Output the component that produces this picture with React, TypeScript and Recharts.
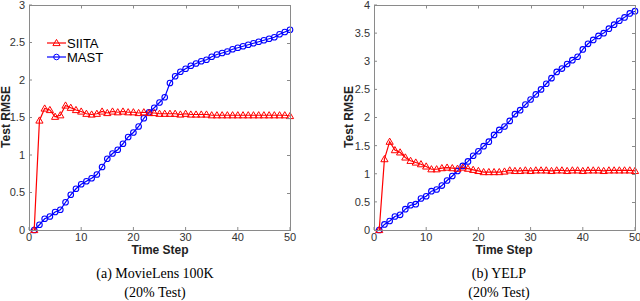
import React from "react"
import { LineChart, Line, XAxis, YAxis } from "recharts"

const steps = [
  1, 2, 3, 4, 5, 6, 7, 8, 9, 10, 11, 12, 13, 14, 15, 16, 17, 18, 19, 20, 21, 22, 23, 24, 25,
  26, 27, 28, 29, 30, 31, 32, 33, 34, 35, 36, 37, 38, 39, 40, 41, 42, 43, 44, 45, 46, 47, 48, 49, 50,
]

const movieSiita = [
  0, 1.46, 1.62, 1.6, 1.51, 1.53, 1.66, 1.63, 1.6, 1.58, 1.55, 1.54, 1.55, 1.58, 1.56, 1.58, 1.57,
  1.58, 1.57, 1.57, 1.56, 1.57, 1.56, 1.56, 1.55, 1.55, 1.55, 1.55, 1.54, 1.55, 1.54, 1.54, 1.54,
  1.54, 1.53, 1.53, 1.53, 1.53, 1.53, 1.53, 1.53, 1.53, 1.53, 1.53, 1.53, 1.53, 1.53, 1.53, 1.53, 1.52,
]

const movieMast = [
  0, 0.07, 0.15, 0.18, 0.24, 0.27, 0.37, 0.47, 0.55, 0.61, 0.65, 0.69, 0.74, 0.84, 0.95, 1.02, 1.07,
  1.15, 1.24, 1.3, 1.38, 1.49, 1.57, 1.63, 1.7, 1.77, 1.96, 2.05, 2.11, 2.15, 2.19, 2.22, 2.25, 2.27,
  2.31, 2.34, 2.36, 2.38, 2.41, 2.43, 2.45, 2.47, 2.49, 2.51, 2.53, 2.55, 2.57, 2.61, 2.64, 2.67,
]

const yelpSiita = [
  0, 1.26, 1.57, 1.42, 1.38, 1.29, 1.23, 1.2, 1.17, 1.13, 1.08, 1.08, 1.1, 1.11, 1.1, 1.09, 1.11,
  1.09, 1.07, 1.05, 1.03, 1.03, 1.03, 1.03, 1.04, 1.06, 1.05, 1.05, 1.06, 1.05, 1.06, 1.06, 1.06,
  1.05, 1.06, 1.06, 1.05, 1.06, 1.06, 1.05, 1.06, 1.06, 1.06, 1.05, 1.06, 1.06, 1.06, 1.06, 1.06, 1.05,
]

const yelpMast = [
  0, 0.1, 0.16, 0.24, 0.27, 0.37, 0.44, 0.46, 0.56, 0.6, 0.69, 0.72, 0.79, 0.88, 0.96, 1.05, 1.14,
  1.22, 1.32, 1.4, 1.49, 1.57, 1.69, 1.78, 1.84, 1.94, 2.06, 2.13, 2.23, 2.32, 2.41, 2.5, 2.6, 2.7,
  2.81, 2.87, 2.95, 3.02, 3.08, 3.21, 3.31, 3.38, 3.45, 3.5, 3.58, 3.65, 3.72, 3.78, 3.85, 3.89,
]

const xTicks = [0, 10, 20, 30, 40, 50]
const movieYTicks = [0, 0.5, 1, 1.5, 2, 2.5, 3]
const yelpYTicks = [0, 0.5, 1, 1.5, 2, 2.5, 3, 3.5, 4]

const RED = "#ff0000"
const BLUE = "#0000ff"
const AXIS = "#8a8a8a"
const TEXT = "#333"
const SANS = "'Liberation Sans', Arial, sans-serif"
const SERIF = "'Liberation Serif', 'Times New Roman', serif"

// plot box inside each 300x250 chart
const PL = 29
const PR = 290
const PT = 5
const PB = 230

const triangle = (p: any) => {
  const { cx, cy } = p
  if (cx == null || cy == null) return <g key={p.index} />
  return (
    <path
      key={p.index}
      d={`M${cx},${cy - 3.6}L${cx - 3.6},${cy + 2.6}L${cx + 3.6},${cy + 2.6}Z`}
      fill="none"
      stroke={RED}
      strokeWidth={1}
    />
  )
}

const circle = (p: any) => {
  const { cx, cy } = p
  if (cx == null || cy == null) return <g key={p.index} />
  return <circle key={p.index} cx={cx} cy={cy} r={2.8} fill="none" stroke={BLUE} strokeWidth={1.1} />
}

// MATLAB-style box with inward ticks on top and right
function Frame({ yTicks, yMax }: any) {
  return (
    <svg width={300} height={250} style={{ position: "absolute", left: 0, top: 0, pointerEvents: "none" }}>
      <rect x={PL + 0.5} y={PT + 0.5} width={PR - PL} height={PB - PT} fill="none" stroke={AXIS} strokeWidth={1} />
      {xTicks.map((t) => {
        const x = Math.round(PL + (t / 50) * (PR - PL)) + 0.5
        return <line key={"tx" + t} x1={x} x2={x} y1={PT} y2={PT + 3.5} stroke={AXIS} />
      })}
      {yTicks.map((t: number) => {
        const y = Math.round(PB - (t / yMax) * (PB - PT)) + 0.5
        return <line key={"ty" + t} x1={PR - 3} x2={PR + 0.5} y1={y} y2={y} stroke={AXIS} />
      })}
    </svg>
  )
}

function Panel({ siita, mast, yTicks, yMax, showLegend }: any) {
  const data = steps.map((s, i) => ({ step: s, siita: siita[i], mast: mast[i] }))
  const tickStyle = { fontSize: 11, fill: TEXT, fontFamily: SANS }
  return (
    <div style={{ position: "relative", width: 300, height: 250 }}>
      <LineChart width={300} height={250} data={data} margin={{ top: PT, right: 300 - PR, bottom: 0, left: 0 }}>
        <XAxis
          type="number"
          dataKey="step"
          domain={[0, 50]}
          ticks={xTicks}
          stroke={AXIS}
          axisLine={false}
          tickSize={-3}
          tickMargin={6}
          tick={tickStyle}
          height={250 - PB}
        />
        <YAxis
          type="number"
          domain={[0, yMax]}
          ticks={yTicks}
          stroke={AXIS}
          axisLine={false}
          tickSize={-3}
          tickMargin={7}
          tick={tickStyle}
          width={PL}
          interval={0}
        />
        <Line dataKey="mast" stroke={BLUE} strokeWidth={1.2} dot={circle} isAnimationActive={false} />
        <Line dataKey="siita" stroke={RED} strokeWidth={1.2} dot={triangle} isAnimationActive={false} />
        {showLegend && (
          <g fontFamily={SANS} fontSize={13} fill="#000">
            <line x1={47} x2={66} y1={43} y2={43} stroke={RED} strokeWidth={1.2} />
            <path d="M56.5,39.4L52.9,45.6L60.1,45.6Z" fill="none" stroke={RED} />
            <text x={67} y={47.5}>SIITA</text>
            <line x1={47} x2={66} y1={57} y2={57} stroke={BLUE} strokeWidth={1.2} />
            <circle cx={56.5} cy={57} r={2.8} fill="none" stroke={BLUE} />
            <text x={67} y={61.5}>MAST</text>
          </g>
        )}
      </LineChart>
      <Frame yTicks={yTicks} yMax={yMax} />
    </div>
  )
}

const axisTitle: React.CSSProperties = {
  position: "absolute",
  fontFamily: SANS,
  fontWeight: "bold",
  fontSize: 12,
  color: "#222",
  whiteSpace: "nowrap",
}

const caption: React.CSSProperties = {
  position: "absolute",
  fontFamily: SERIF,
  fontSize: 14,
  color: "#000",
  whiteSpace: "nowrap",
  transform: "translateX(-50%)",
}

export default function App() {
  return (
    <div style={{ position: "absolute", left: 0, top: 0, width: 640, height: 301, background: "#fff", overflow: "hidden" }}>
      <div style={{ position: "absolute", left: 0, top: 0 }}>
        <Panel siita={movieSiita} mast={movieMast} yTicks={movieYTicks} yMax={3} showLegend />
      </div>
      <div style={{ position: "absolute", left: 345, top: 0 }}>
        <Panel siita={yelpSiita} mast={yelpMast} yTicks={yelpYTicks} yMax={4} />
      </div>

      <div style={{ ...axisTitle, left: 160, top: 243, transform: "translateX(-50%)" }}>Time Step</div>
      <div style={{ ...axisTitle, left: 504, top: 243, transform: "translateX(-50%)" }}>Time Step</div>
      <div style={{ ...axisTitle, left: 6, top: 117, transform: "translate(-50%, -50%) rotate(-90deg)" }}>Test RMSE</div>
      <div style={{ ...axisTitle, left: 349, top: 117, transform: "translate(-50%, -50%) rotate(-90deg)" }}>Test RMSE</div>

      <div style={{ ...caption, left: 155, top: 266 }}>(a) MovieLens 100K</div>
      <div style={{ ...caption, left: 155, top: 285 }}>(20% Test)</div>
      <div style={{ ...caption, left: 499, top: 266 }}>(b) YELP</div>
      <div style={{ ...caption, left: 499, top: 285 }}>(20% Test)</div>
    </div>
  )
}
